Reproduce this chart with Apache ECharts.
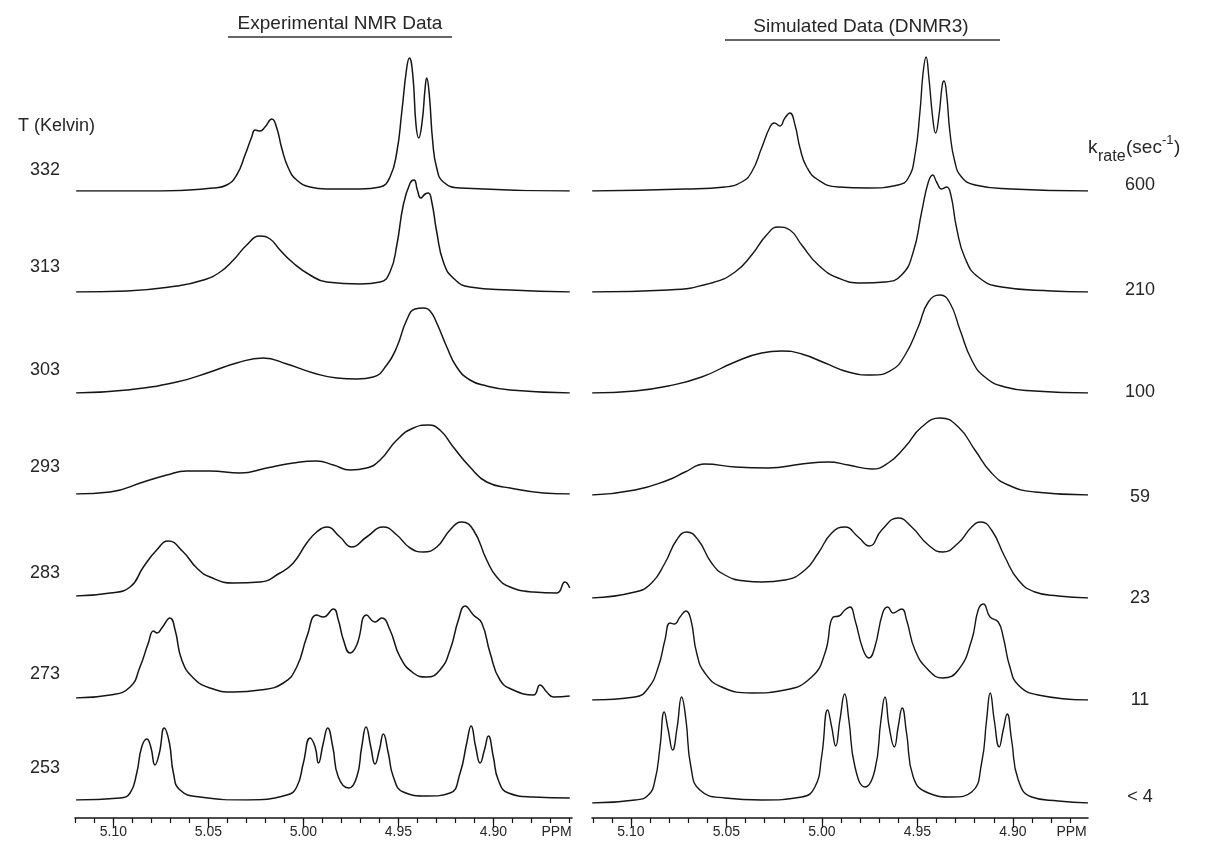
<!DOCTYPE html>
<html>
<head>
<meta charset="utf-8">
<title>Experimental vs simulated NMR</title>
<script src="https://cdn.jsdelivr.net/npm/echarts@6/dist/echarts.min.js"></script>
<style>
  html, body { margin: 0; padding: 0; background: #fff; }
  #chart { width: 1215px; height: 848px; }
</style>
</head>
<body>
<div id="chart"></div>
<script>
// spectra: [shift (ppm), intensity]
const exp332 = [[5.1196,0],[5.0754,0],[5.0474,3],[5.0403,6],[5.0351,16],[5.0307,36],[5.0272,54],[5.0254,61],[5.0228,60],[5.0202,64],[5.0166,72],[5.0140,63],[5.0114,43],[5.0079,23],[5.0035,11],[4.9965,4],[4.9877,2],[4.9702,2],[4.9596,4],[4.9544,14],[4.9508,39],[4.9482,79],[4.9456,123],[4.9442,133],[4.9424,116],[4.9407,66],[4.9393,53],[4.9375,69],[4.9359,103],[4.9351,113],[4.9337,96],[4.9319,49],[4.9298,23],[4.9263,9],[4.9175,3],[4.8598,0]];
const exp313 = [[5.1196,0],[5.0929,1],[5.0666,6],[5.0526,12],[5.0438,20],[5.0368,32],[5.0298,47],[5.0228,56],[5.0175,53],[5.0123,42],[5.0053,29],[4.9965,17],[4.9877,10],[4.9702,8],[4.9596,10],[4.9544,20],[4.9508,47],[4.9474,87],[4.9438,109],[4.9417,112],[4.9400,102],[4.9382,94],[4.9359,98],[4.9342,99],[4.9324,90],[4.9298,60],[4.9263,30],[4.9211,14],[4.9123,5],[4.8912,2],[4.8598,0]];
const exp303 = [[5.1196,0],[5.0929,3],[5.0666,11],[5.0491,21],[5.0351,30],[5.0211,35],[5.0087,29],[4.9947,20],[4.9824,15],[4.9719,14],[4.9632,16],[4.9561,28],[4.9508,46],[4.9456,73],[4.9412,84],[4.9368,85],[4.9333,82],[4.9298,70],[4.9245,46],[4.9193,26],[4.9123,13],[4.9035,7],[4.8912,3],[4.8598,0]];
const exp293 = [[5.1196,0],[5.1017,2],[5.0842,12],[5.0719,19],[5.0614,23],[5.0491,23],[5.0333,21],[5.0193,26],[5.0053,31],[4.9930,33],[4.9842,29],[4.9754,24],[4.9667,26],[4.9596,34],[4.9508,54],[4.9421,66],[4.9342,69],[4.9281,64],[4.9211,47],[4.9123,27],[4.9035,12],[4.8912,6],[4.8737,1],[4.8598,0]];
const exp283 = [[5.1196,0],[5.1017,3],[5.0912,9],[5.0842,29],[5.0772,46],[5.0711,55],[5.0632,44],[5.0561,28],[5.0491,19],[5.0368,13],[5.0228,14],[5.0123,23],[5.0053,33],[4.9982,53],[4.9930,64],[4.9877,69],[4.9807,59],[4.9745,49],[4.9667,59],[4.9579,69],[4.9508,61],[4.9438,48],[4.9368,44],[4.9298,49],[4.9228,66],[4.9166,74],[4.9105,66],[4.9035,36],[4.8982,19],[4.8912,9],[4.8789,4],[4.8666,3],[4.8623,14],[4.8598,8]];
const exp273 = [[5.1196,0],[5.1017,3],[5.0912,11],[5.0860,31],[5.0816,55],[5.0789,67],[5.0770,65],[5.0745,70],[5.0702,80],[5.0675,68],[5.0640,38],[5.0579,20],[5.0491,10],[5.0368,6],[5.0228,8],[5.0105,15],[5.0035,31],[4.9982,61],[4.9930,83],[4.9895,81],[4.9842,89],[4.9816,78],[4.9789,58],[4.9754,45],[4.9719,53],[4.9667,83],[4.9623,76],[4.9588,80],[4.9544,68],[4.9491,41],[4.9421,25],[4.9351,21],[4.9281,28],[4.9228,48],[4.9184,78],[4.9149,92],[4.9105,83],[4.9061,75],[4.9017,45],[4.8965,18],[4.8895,8],[4.8789,3],[4.8754,13],[4.8719,6],[4.8684,1],[4.8598,2]];
const exp253 = [[5.1196,0],[5.0965,2],[5.0912,7],[5.0877,27],[5.0851,53],[5.0824,61],[5.0803,53],[5.0781,35],[5.0758,47],[5.0732,72],[5.0705,57],[5.0684,27],[5.0649,10],[5.0544,3],[5.0298,0],[5.0087,5],[5.0035,13],[5.0000,37],[4.9965,62],[4.9938,53],[4.9921,37],[4.9895,57],[4.9872,72],[4.9845,53],[4.9816,23],[4.9763,12],[4.9719,23],[4.9693,53],[4.9670,73],[4.9645,53],[4.9623,36],[4.9600,50],[4.9579,66],[4.9553,47],[4.9526,23],[4.9474,8],[4.9351,4],[4.9228,7],[4.9175,27],[4.9140,57],[4.9117,74],[4.9093,53],[4.9070,37],[4.9047,50],[4.9026,64],[4.9000,43],[4.8974,20],[4.8921,7],[4.8789,3],[4.8598,2]];

const sim600 = [[5.1203,0],[5.0717,2],[5.0508,4],[5.0420,9],[5.0368,19],[5.0316,43],[5.0272,64],[5.0250,68],[5.0220,65],[5.0194,73],[5.0168,78],[5.0141,66],[5.0115,43],[5.0080,24],[5.0019,11],[4.9915,4],[4.9758,3],[4.9601,6],[4.9548,13],[4.9513,36],[4.9487,79],[4.9470,119],[4.9455,134],[4.9440,113],[4.9420,73],[4.9405,58],[4.9387,76],[4.9370,106],[4.9361,110],[4.9347,96],[4.9330,59],[4.9304,29],[4.9269,14],[4.9199,6],[4.9007,2],[4.8607,0]];
const sim210 = [[5.1203,0],[5.0805,2],[5.0578,9],[5.0455,20],[5.0368,37],[5.0290,57],[5.0229,65],[5.0168,62],[5.0106,47],[5.0019,27],[4.9915,14],[4.9792,9],[4.9670,10],[4.9583,17],[4.9522,40],[4.9478,80],[4.9443,110],[4.9420,117],[4.9400,110],[4.9373,103],[4.9347,105],[4.9325,97],[4.9295,64],[4.9251,34],[4.9182,15],[4.9059,5],[4.8797,1],[4.8607,0]];
const sim100 = [[5.1203,0],[5.0979,2],[5.0805,7],[5.0630,16],[5.0455,31],[5.0316,40],[5.0211,42],[5.0106,39],[4.9984,30],[4.9862,21],[4.9740,18],[4.9635,23],[4.9565,38],[4.9496,66],[4.9443,91],[4.9382,98],[4.9330,90],[4.9277,63],[4.9216,33],[4.9147,16],[4.9042,6],[4.8885,2],[4.8607,0]];
const sim59 = [[5.1203,0],[5.0979,5],[5.0805,15],[5.0717,23],[5.0613,31],[5.0455,28],[5.0281,27],[5.0106,31],[4.9967,33],[4.9862,30],[4.9740,26],[4.9653,32],[4.9565,48],[4.9478,68],[4.9382,77],[4.9286,68],[4.9199,45],[4.9112,22],[4.9025,10],[4.8885,3],[4.8607,0]];
const sim23 = [[5.1203,0],[5.0979,6],[5.0892,15],[5.0822,35],[5.0761,58],[5.0708,66],[5.0648,58],[5.0578,35],[5.0508,23],[5.0403,17],[5.0316,16],[5.0194,18],[5.0089,28],[5.0019,45],[4.9949,65],[4.9880,71],[4.9810,61],[4.9752,52],[4.9687,68],[4.9601,80],[4.9530,71],[4.9443,53],[4.9368,46],[4.9286,55],[4.9216,71],[4.9168,76],[4.9112,68],[4.9042,41],[4.8972,18],[4.8885,6],[4.8763,2],[4.8607,0]];
const sim11 = [[5.1203,0],[5.0979,3],[5.0909,12],[5.0857,33],[5.0822,60],[5.0796,77],[5.0773,76],[5.0743,83],[5.0712,89],[5.0686,80],[5.0656,47],[5.0613,27],[5.0525,13],[5.0368,7],[5.0194,10],[5.0054,23],[4.9984,47],[4.9941,83],[4.9911,84],[4.9880,90],[4.9853,93],[4.9827,80],[4.9784,50],[4.9754,42],[4.9723,53],[4.9682,87],[4.9656,93],[4.9627,87],[4.9583,91],[4.9557,80],[4.9513,50],[4.9443,30],[4.9368,22],[4.9286,30],[4.9216,60],[4.9182,90],[4.9155,96],[4.9120,83],[4.9077,78],[4.9051,63],[4.9016,33],[4.8972,15],[4.8868,5],[4.8607,0]];
const sim4 = [[5.1203,0],[5.0979,3],[5.0909,8],[5.0874,23],[5.0848,56],[5.0826,91],[5.0805,73],[5.0782,53],[5.0758,76],[5.0735,106],[5.0712,83],[5.0686,36],[5.0639,13],[5.0508,5],[5.0316,3],[5.0106,6],[5.0037,16],[5.0002,46],[4.9970,93],[4.9949,76],[4.9928,57],[4.9906,83],[4.9881,109],[4.9859,83],[4.9827,36],[4.9775,16],[4.9723,33],[4.9691,83],[4.9670,106],[4.9648,76],[4.9621,56],[4.9601,76],[4.9580,95],[4.9557,70],[4.9522,26],[4.9443,10],[4.9321,6],[4.9216,11],[4.9164,40],[4.9138,83],[4.9119,110],[4.9098,83],[4.9072,56],[4.9051,73],[4.9030,89],[4.9007,63],[4.8972,23],[4.8902,6],[4.8763,2],[4.8607,0]];

const tempLabels = ['332', '313', '303', '293', '283', '273', '253'];
const rateLabels = ['600', '210', '100', '59', '23', '11', '< 4'];
const majorTicks = [5.10, 5.05, 5.00, 4.95, 4.90];
const minorTicks = [5.12, 5.11, 5.10, 5.09, 5.08, 5.07, 5.06, 5.05, 5.04, 5.03, 5.02, 5.01, 5.00,
  4.99, 4.98, 4.97, 4.96, 4.95, 4.94, 4.93, 4.92, 4.91, 4.90, 4.89, 4.88, 4.87, 4.86];

const expSpectra = [exp332, exp313, exp303, exp293, exp283, exp273, exp253];
const simSpectra = [sim600, sim210, sim100, sim59, sim23, sim11, sim4];

// layout (pixels)
const H = 150;
const panels = [
  { left: 75, width: 497, min: 4.8586, max: 5.1202, ppmAt: 4.8667, lineWidth: 1.5,
    baselines: [191, 292, 393, 494, 596, 698, 800], spectra: expSpectra },
  { left: 592, width: 496, min: 4.8607, max: 5.1204, ppmAt: 4.8693, lineWidth: 1.4,
    baselines: [191, 292, 393, 495, 598, 700, 803], spectra: simSpectra }
];
const tempY = [170, 267, 370, 467, 573, 674, 768];
const rateY = [185, 290, 392, 497, 598, 700, 797];

const ink = '#151515';
const textInk = '#262626';
const font = 'Liberation Sans, Arial, Helvetica, sans-serif';

const grid = [], xAxis = [], yAxis = [], series = [];

panels.forEach(p => {
  p.spectra.forEach((d, i) => {
    const g = grid.length;
    grid.push({ left: p.left, top: p.baselines[i] - H, width: p.width, height: H });
    const xi = xAxis.length;
    xAxis.push({ type: 'value', gridIndex: g, min: p.min, max: p.max, inverse: true, show: false });
    const yi = yAxis.length;
    yAxis.push({ type: 'value', gridIndex: g, min: 0, max: H, show: false });
    series.push({
      type: 'line', xAxisIndex: xi, yAxisIndex: yi, data: d,
      symbol: 'none', smooth: 0.5, silent: true,
      lineStyle: { color: ink, width: p.lineWidth }
    });
  });

  // a separate grid for the ppm scale, its bottom is the axis line
  const g = grid.length;
  grid.push({ left: p.left, top: 718, width: p.width, height: 100 });
  yAxis.push({ type: 'value', gridIndex: g, min: 0, max: 1, show: false });
  // minor ticks + axis line
  xAxis.push({
    type: 'value', gridIndex: g, position: 'bottom',
    min: p.min, max: p.max, inverse: true,
    axisLine: { show: true, lineStyle: { color: ink, width: 1.6 } },
    axisTick: { show: true, customValues: minorTicks, length: 5, lineStyle: { color: ink, width: 1.2 } },
    axisLabel: { show: false },
    splitLine: { show: false }
  });
  // major ticks + labels
  xAxis.push({
    type: 'value', gridIndex: g, position: 'bottom',
    min: p.min, max: p.max, inverse: true,
    axisLine: { show: false },
    axisTick: { show: true, customValues: majorTicks, length: 10, lineStyle: { color: ink, width: 1.2 } },
    axisLabel: {
      customValues: majorTicks.concat([p.ppmAt]),
      formatter: v => (v < 4.88 ? 'PPM' : v.toFixed(2)),
      color: textInk, fontSize: 14, fontFamily: font, margin: 7
    },
    splitLine: { show: false }
  });
});

const txt = (x, y, text, size, align) => ({
  type: 'text', x: x, y: y, silent: true,
  style: { text: text, fill: textInk, fontSize: size, fontFamily: font,
    align: align || 'center', textAlign: align || 'center',
    verticalAlign: 'middle', textVerticalAlign: 'middle' }
});

const graphic = [
  txt(340, 24, 'Experimental NMR Data', 19),
  { type: 'line', silent: true, shape: { x1: 228, y1: 37, x2: 452, y2: 37 }, style: { stroke: '#333', lineWidth: 1.5 } },
  txt(861, 27, 'Simulated Data (DNMR3)', 19),
  { type: 'line', silent: true, shape: { x1: 725, y1: 40, x2: 1000, y2: 40 }, style: { stroke: '#333', lineWidth: 1.5 } },
  txt(18, 126, 'T (Kelvin)', 18, 'left'),
  txt(1088, 148, 'k', 19, 'left'),
  txt(1098, 157, 'rate', 16, 'left'),
  txt(1126, 148, '(sec', 19, 'left'),
  txt(1162, 140, '-1', 13, 'left'),
  txt(1174, 148, ')', 19, 'left')
];
tempLabels.forEach((t, i) => graphic.push(txt(45, tempY[i], t, 18)));
rateLabels.forEach((t, i) => graphic.push(txt(1140, rateY[i], t, 18)));

const chart = echarts.init(document.getElementById('chart'));
chart.setOption({
  animation: false,
  backgroundColor: '#fff',
  grid: grid,
  xAxis: xAxis,
  yAxis: yAxis,
  series: series,
  graphic: graphic
});
</script>
</body>
</html>
